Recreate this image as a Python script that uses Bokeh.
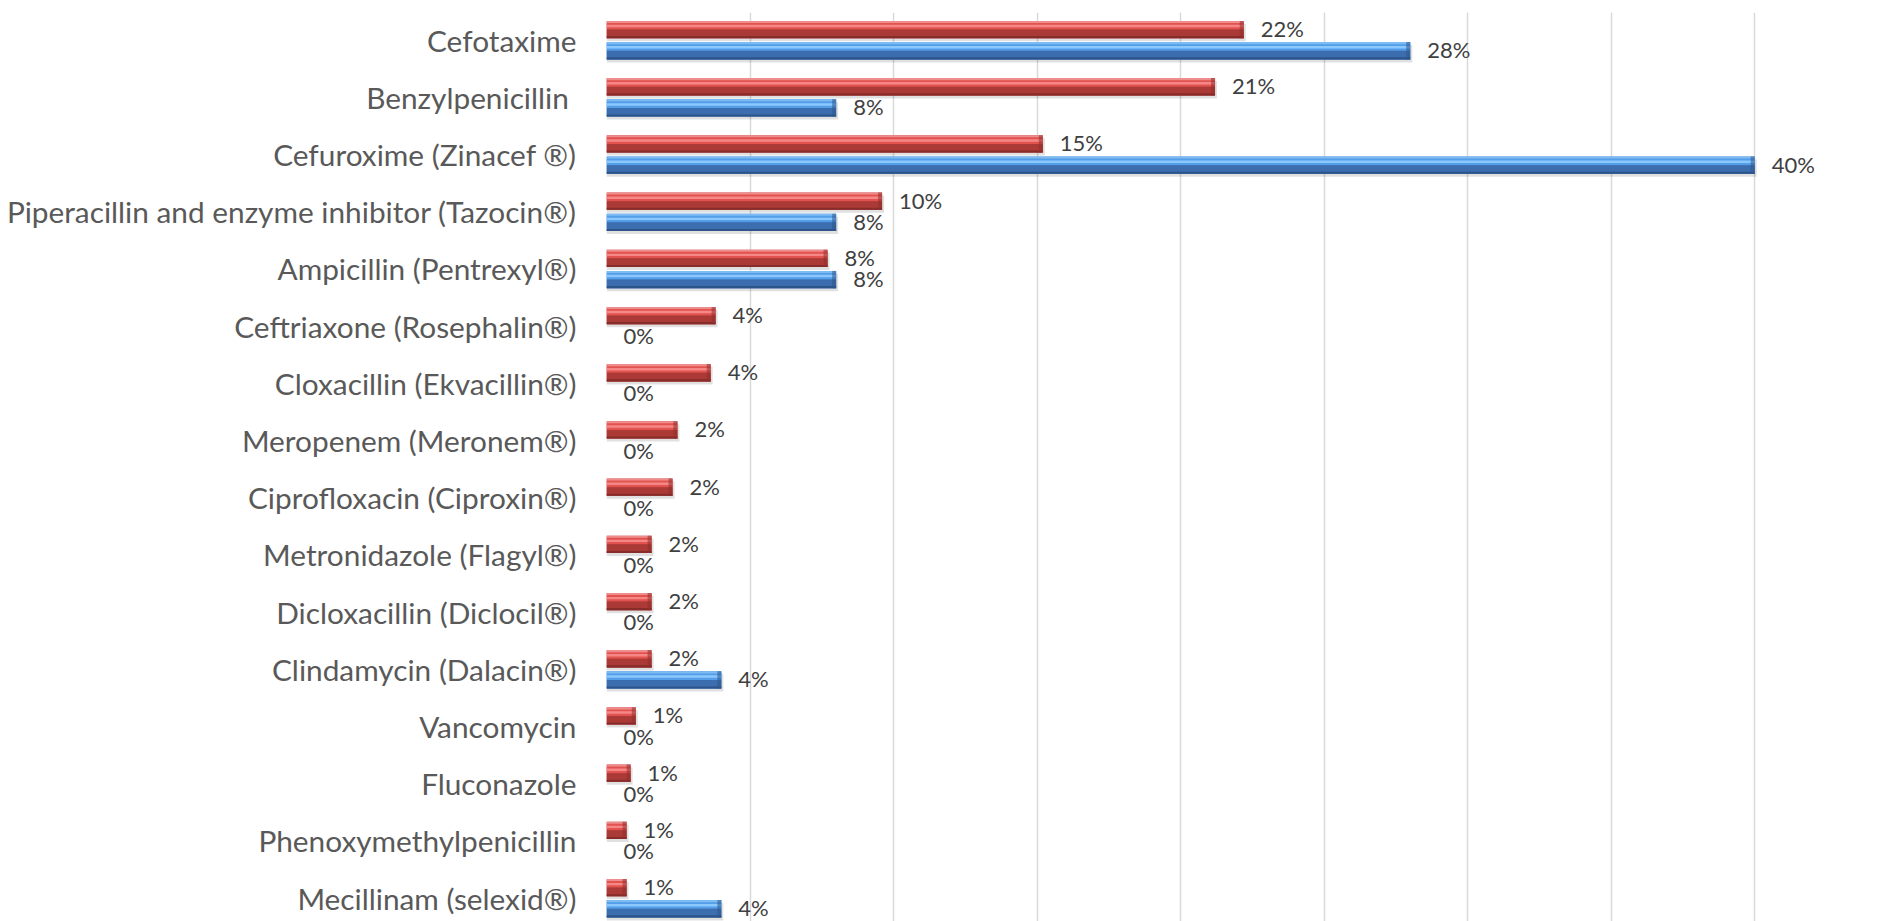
from bokeh.plotting import figure
from bokeh.models import Range1d, FixedTicker, ColumnDataSource
from bokeh.core.properties import value
from bokeh.embed import file_html
from bokeh.resources import INLINE

# ---- data ----
drugs = [
    "Cefotaxime",
    "Benzylpenicillin ",
    "Cefuroxime (Zinacef \u00ae)",
    "Piperacillin and enzyme inhibitor (Tazocin\u00ae)",
    "Ampicillin (Pentrexyl\u00ae)",
    "Ceftriaxone (Rosephalin\u00ae)",
    "Cloxacillin (Ekvacillin\u00ae)",
    "Meropenem (Meronem\u00ae)",
    "Ciprofloxacin (Ciproxin\u00ae)",
    "Metronidazole (Flagyl\u00ae)",
    "Dicloxacillin (Diclocil\u00ae)",
    "Clindamycin (Dalacin\u00ae)",
    "Vancomycin",
    "Fluconazole",
    "Phenoxymethylpenicillin",
    "Mecillinam (selexid\u00ae)",
]
red_values = [22.2, 21.2, 15.2, 9.6, 7.7, 3.8, 3.63, 2.47, 2.3, 1.57, 1.57, 1.57, 1.02, 0.84, 0.70, 0.70]
blue_values = [28, 8, 40, 8, 8, 0, 0, 0, 0, 0, 0, 4, 0, 0, 0, 4]
grid_ticks = [0, 5, 10, 15, 20, 25, 30, 35, 40]

# ---- layout constants ----
PX_PER_UNIT_Y = 57.2
PX_PER_UNIT_X = 28.7
BAR_H = 17.3 / PX_PER_UNIT_Y
OFF = 10.6 / PX_PER_UNIT_Y
FONT = "Lato"

idx = list(range(len(drugs)))
red_y = [i - OFF for i in idx]
blue_y = [i + OFF for i in idx]

p = figure(
    width=1869, height=921,
    x_range=Range1d(0, 44),
    y_range=Range1d(start=15.408, end=-0.483),
    output_backend="svg", toolbar_location=None,
    min_border_left=606, min_border_right=0, min_border_top=12, min_border_bottom=0,
)
p.outline_line_color = None
p.background_fill_color = "white"
p.xaxis.visible = False
p.ygrid.grid_line_color = None
p.xgrid.ticker = FixedTicker(ticks=grid_ticks)
p.xgrid.grid_line_color = "#D9D9D9"
p.xgrid.grid_line_width = 1.5

ax = p.yaxis[0]
ax.ticker = FixedTicker(ticks=idx)
ax.major_label_overrides = {i: d for i, d in enumerate(drugs)}
ax.axis_line_color = None
ax.major_tick_line_color = None
ax.minor_tick_line_color = None
ax.major_tick_in = 0
ax.major_tick_out = 0
ax.major_label_standoff = 30
ax.major_label_text_font = FONT
ax.major_label_text_font_size = "29.8px"
ax.major_label_text_color = "#595959"


def bevel_bar(vals, ys, colors):
    base, top_edge, upper, hi, lower, bottom_edge, cap = colors
    h = BAR_H
    src = ColumnDataSource(dict(
        v=vals,
        y=ys,
        sh=[y + 3.0 / PX_PER_UNIT_Y for y in ys],
        vs=[v + 2.0 / PX_PER_UNIT_X if v > 0 else 0 for v in vals],
        cap_l=[max(v - 4.0 / PX_PER_UNIT_X, 0) for v in vals],
        y_te=[y - h / 2 + h * 0.06 for y in ys],
        y_up=[y - h / 2 + h * 0.28 for y in ys],
        y_hi=[y - h / 2 + h * 0.30 for y in ys],
        y_lo=[y + h * 0.25 for y in ys],
        y_be=[y + h / 2 - h * 0.06 for y in ys],
    ))
    # soft shadow
    p.hbar(y="sh", left=0, right="vs", height=h, source=src,
           fill_color="#000000", fill_alpha=0.12, line_color=None)
    p.hbar(y="y", left=0, right="v", height=h, source=src,
           fill_color=base, line_color=None)
    p.hbar(y="y_up", left=0, right="v", height=h * 0.44, source=src,
           fill_color=upper, line_color=None)
    p.hbar(y="y_hi", left=0, right="v", height=h * 0.14, source=src,
           fill_color=hi, line_color=None)
    p.hbar(y="y_lo", left=0, right="v", height=h * 0.5, source=src,
           fill_color=lower, line_color=None)
    p.hbar(y="y_te", left=0, right="v", height=h * 0.12, source=src,
           fill_color=top_edge, line_color=None)
    p.hbar(y="y_be", left=0, right="v", height=h * 0.12, source=src,
           fill_color=bottom_edge, line_color=None)
    p.hbar(y="y", left="cap_l", right="v", height=h, source=src,
           fill_color=cap, fill_alpha=0.55, line_color=None)


bevel_bar(red_values, red_y,
          ("#C44845", "#EE8D8B", "#E2524F", "#F58886", "#AB3A37", "#862C2A", "#8E2F2D"))
bevel_bar(blue_values, blue_y,
          ("#4A86CF", "#7DBBF3", "#549DE8", "#8AC8FD", "#3C6DAE", "#2D5488", "#2E568C"))

red_labels = [f"{round(v)}%" for v in red_values]
blue_labels = [f"{round(v)}%" for v in blue_values]

lab_src = ColumnDataSource(dict(
    x=list(red_values) + list(blue_values),
    y=red_y + blue_y,
    t=red_labels + blue_labels,
))
p.text(x="x", y="y", text="t", source=lab_src,
       x_offset=17, y_offset=-1,
       text_font=value(FONT), text_font_size="22px",
       text_color="#404040", text_baseline="middle", text_align="left")

open("out.html", "w").write(file_html(p, INLINE))
